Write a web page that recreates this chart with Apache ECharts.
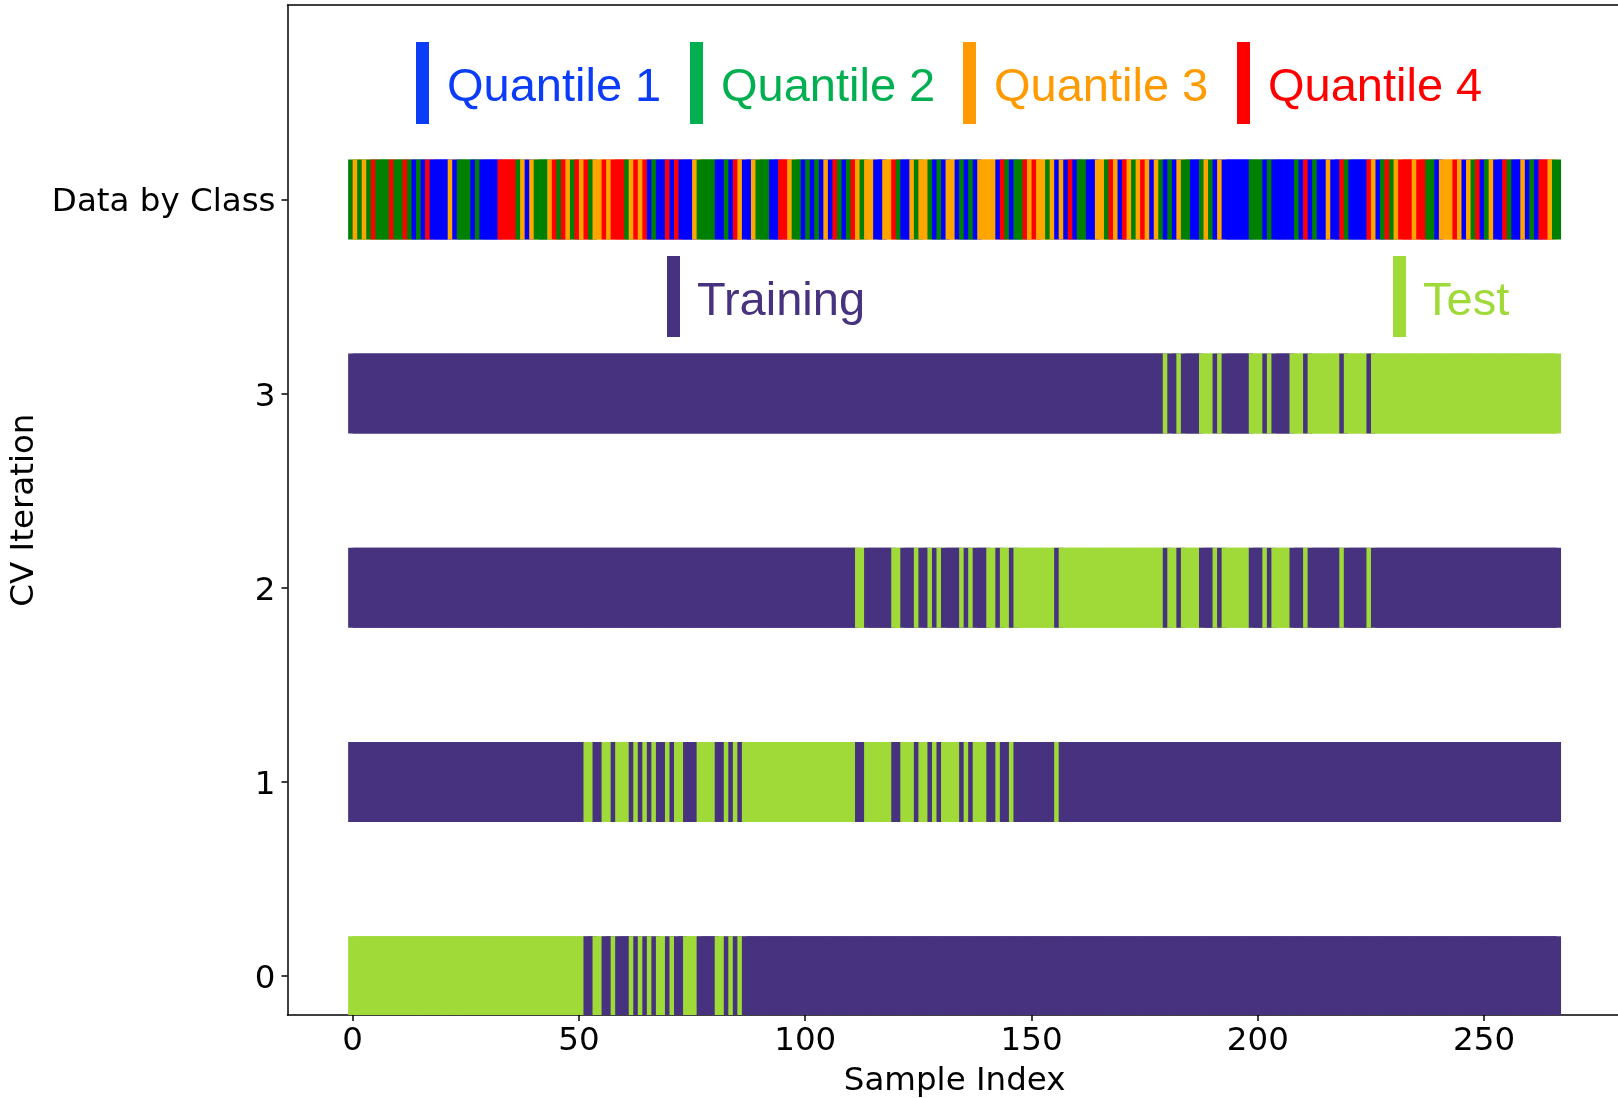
<!DOCTYPE html>
<html>
<head>
<meta charset="utf-8">
<script src="https://cdn.jsdelivr.net/npm/echarts@6/dist/echarts.min.js"></script>
<style>
  html, body { margin: 0; padding: 0; background: #fff; }
  #chart { width: 1618px; height: 1098px; }
</style>
</head>
<body>
<div id="chart"></div>
<script>
// quantile of every sample, left to right (1 = Q1 ... 4 = Q4), 10 per chunk
const sampleClass = [
  '2323242224', '2242121411', '1131222121', '1114444231', '3222342432',
  '4342334344', '4234341211', '4141113222', '2112143113', '2221144322',
  '1212131421', '2432331133', '4211323321', '2133121213', '3331421224',
  '3433231314', '1221133243', '1432343132', '1213221123', '2131111112',
  '2212111112', '1412113114', '2111143124', '2344434422', '1333431324',
  '1231142113', '1214432'
].join('').split('').map(Number);

// CV fold in which every sample is used as test
const sampleFold = [
  '0000000000', '0000000000', '0000000000', '0000000000', '0000000000',
  '0011001101', '1101010100', '1011000111', '1001010111', '1111111111',
  '1111111111', '1122111111', '2211121121', '2111121211', '1221221222',
  '2222221222', '2222222222', '2222222222', '3223222233', '3232222223',
  '3323222233', '3233333332', '3333323333', '3333333333', '3333333333',
  '3333333333', '3333333'
].join('').split('').map(Number);

const cvIterations = [0, 1, 2, 3];
const classRow = 4;
const xTicks = [0, 50, 100, 150, 200, 250];
const yTicks = [0, 1, 2, 3, 4];
const classRowLabel = 'Data by Class';
const quantileNames = ['Quantile 1', 'Quantile 2', 'Quantile 3', 'Quantile 4'];
const splitNames = ['Training', 'Test'];

// colours
const classColors = [null, '#0000ff', '#008000', '#ffa500', '#ff0000'];
const cvColors = ['#46327e', '#a0da39'];
const quantileTextColors = ['#0b3cf7', '#00b050', '#ff9a00', '#ff0000'];

const chart = echarts.init(document.getElementById('chart'));

const cvData = [];
cvIterations.forEach(function (k) {
  sampleFold.forEach(function (f, i) {
    cvData.push([i, k, f === k ? 1 : 0]);
  });
});
const classData = sampleClass.map(function (c, i) { return [i, classRow, c]; });

// each sample is a short horizontal dash 2 units wide, later ones cover earlier ones
function stripe(colors) {
  return function (params, api) {
    const i = api.value(0);
    const row = api.value(1);
    const p0 = api.coord([i - 1, row + 0.206]);
    const p1 = api.coord([i + 1, row - 0.206]);
    return {
      type: 'rect',
      z2: i,
      shape: { x: p0[0], y: p0[1], width: p1[0] - p0[0], height: p1[1] - p0[1] },
      style: { fill: colors[api.value(2)] }
    };
  };
}

const axisFont = { fontFamily: 'DejaVu Sans', fontSize: 32.5, color: '#000' };
const legendFont = 'Liberation Sans';

// legend drawn as coloured bars + text
const graphics = [];
const quantileX = [416, 690, 963, 1237];
quantileNames.forEach(function (name, j) {
  graphics.push({ type: 'rect', left: quantileX[j], top: 42,
    shape: { width: 13, height: 82 }, style: { fill: quantileTextColors[j] } });
  graphics.push({ type: 'text', x: quantileX[j] + 31, y: 88.5,
    style: { text: name, fill: quantileTextColors[j], font: '47px "' + legendFont + '"',
      verticalAlign: 'middle', align: 'left' } });
});
const splitX = [667, 1393];
splitNames.forEach(function (name, j) {
  graphics.push({ type: 'rect', left: splitX[j], top: 256,
    shape: { width: 13, height: 81 }, style: { fill: cvColors[j] } });
  graphics.push({ type: 'text', x: splitX[j] + 30, y: 302,
    style: { text: name, fill: cvColors[j], font: '47px "' + legendFont + '"',
      verticalAlign: 'middle', align: 'left' } });
});

const option = {
  animation: false,
  backgroundColor: '#fff',
  grid: { left: 287.5, right: -3.7, top: 5.2, bottom: 83, outerBoundsMode: 'none' },
  xAxis: [{
    type: 'value',
    min: -14.4,
    max: 280.4,
    axisLine: { show: true, onZero: false, lineStyle: { color: '#000', width: 1.5 } },
    axisTick: { show: true, customValues: xTicks, length: 6, lineStyle: { color: '#000', width: 1.5 } },
    axisLabel: Object.assign({ customValues: xTicks, margin: 10 }, axisFont),
    splitLine: { show: false },
    name: 'Sample Index',
    nameLocation: 'middle',
    nameGap: 50,
    nameTextStyle: axisFont
  }, {
    type: 'value',
    position: 'top',
    min: -14.4,
    max: 280.4,
    axisLine: { show: true, onZero: false, lineStyle: { color: '#000', width: 1.5 } },
    axisTick: { show: false },
    axisLabel: { show: false },
    splitLine: { show: false }
  }],
  yAxis: {
    type: 'value',
    min: -0.2,
    max: 5,
    axisLine: { show: true, onZero: false, lineStyle: { color: '#000', width: 1.5 } },
    axisTick: { show: true, customValues: yTicks, length: 6, lineStyle: { color: '#000', width: 1.5 } },
    axisLabel: Object.assign({
      customValues: yTicks,
      margin: 12,
      formatter: function (v) { return '{t|' + (v === classRow ? classRowLabel : String(v)) + '}'; },
      rich: { t: Object.assign({ padding: [7, 0, 0, 0] }, axisFont) }
    }, axisFont),
    splitLine: { show: false },
    name: 'CV Iteration',
    nameLocation: 'middle',
    nameGap: 243,
    nameTextStyle: axisFont
  },
  series: [{
    type: 'custom',
    renderItem: stripe(cvColors),
    data: cvData,
    clip: true
  }, {
    type: 'custom',
    renderItem: stripe(classColors),
    data: classData,
    clip: true
  }],
  graphic: graphics
};

chart.setOption(option);
</script>
</body>
</html>
